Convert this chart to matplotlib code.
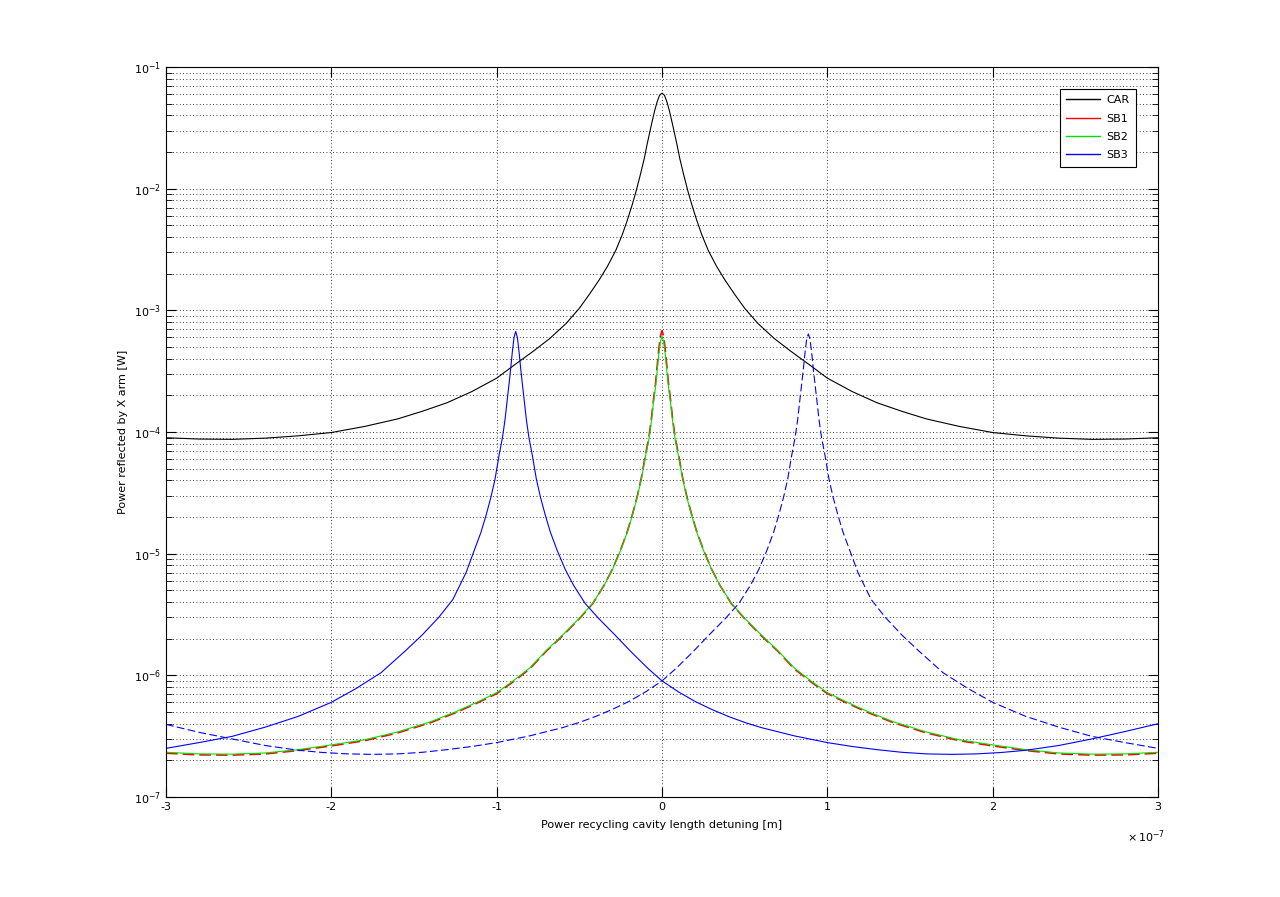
import matplotlib
matplotlib.use("Agg")
import matplotlib.pyplot as plt
from matplotlib.lines import Line2D
from matplotlib.ticker import LogLocator, NullFormatter, FuncFormatter, FixedLocator
import numpy as np

# detuning values in units of 1e-7 m
x_car = [-3.0, -2.8, -2.6, -2.4, -2.2, -2.0, -1.8, -1.6, -1.45, -1.3, -1.15, -1.0, -0.9,
         -0.78, -0.68, -0.58, -0.5, -0.44, -0.38, -0.33, -0.28, -0.24, -0.21, -0.18,
         -0.157, -0.13, -0.107, -0.09, -0.075, -0.06, -0.045, -0.03, -0.015, 0.0,
         0.015, 0.03, 0.045, 0.06, 0.075, 0.09, 0.107, 0.13, 0.157, 0.18, 0.21, 0.24,
         0.28, 0.33, 0.38, 0.44, 0.5, 0.58, 0.68, 0.78, 0.9, 1.0, 1.15, 1.3, 1.45, 1.6,
         1.8, 2.0, 2.2, 2.4, 2.6, 2.8, 3.0]
car = [8.97e-5, 8.75e-5, 8.7e-5, 8.9e-5, 9.3e-5, 9.9e-5, 1.11e-4, 1.28e-4, 1.48e-4,
       1.74e-4, 2.15e-4, 2.77e-4, 3.5e-4, 4.6e-4, 5.85e-4, 7.8e-4, 1.04e-3, 1.35e-3,
       1.78e-3, 2.3e-3, 3.1e-3, 4.2e-3, 5.5e-3, 7.4e-3, 9.5e-3, 1.32e-2, 1.78e-2,
       2.32e-2, 2.88e-2, 3.55e-2, 4.35e-2, 5.15e-2, 5.85e-2, 6.1e-2,
       5.85e-2, 5.15e-2, 4.35e-2, 3.55e-2, 2.88e-2, 2.32e-2, 1.78e-2, 1.32e-2, 9.5e-3,
       7.4e-3, 5.5e-3, 4.2e-3, 3.1e-3, 2.3e-3, 1.78e-3, 1.35e-3, 1.04e-3, 7.8e-4,
       5.85e-4, 4.6e-4, 3.5e-4, 2.77e-4, 2.15e-4, 1.74e-4, 1.48e-4, 1.28e-4, 1.11e-4,
       9.9e-5, 9.3e-5, 8.9e-5, 8.7e-5, 8.75e-5, 8.97e-5]

x_sb = [-3.0, -2.8, -2.6, -2.4, -2.2, -2.0, -1.8, -1.6, -1.4, -1.25, -1.12, -1.0, -0.9,
        -0.8, -0.7, -0.6, -0.5, -0.42, -0.35, -0.3, -0.25, -0.21, -0.18, -0.15, -0.125,
        -0.1, -0.08, -0.065, -0.05, -0.04, -0.03, -0.02, -0.01, 0.0,
        0.01, 0.02, 0.03, 0.04, 0.05, 0.065, 0.08, 0.1, 0.125, 0.15, 0.18, 0.21, 0.25,
        0.3, 0.35, 0.42, 0.5, 0.6, 0.7, 0.8, 0.9, 1.0, 1.12, 1.25, 1.4, 1.6, 1.8, 2.0,
        2.2, 2.4, 2.6, 2.8, 3.0]
sb1 = [2.29e-7, 2.22e-7, 2.21e-7, 2.26e-7, 2.41e-7, 2.63e-7, 2.9e-7, 3.36e-7, 4.08e-7,
       4.92e-7, 5.9e-7, 7.08e-7, 8.85e-7, 1.13e-6, 1.58e-6, 2.12e-6, 2.92e-6, 3.87e-6,
       5.5e-6, 7.45e-6, 1.08e-5, 1.52e-5, 2.08e-5, 2.95e-5, 4.2e-5, 6.5e-5, 8.9e-5,
       1.26e-4, 1.92e-4, 2.45e-4, 3.4e-4, 4.7e-4, 6.1e-4, 6.8e-4,
       6.1e-4, 4.7e-4, 3.4e-4, 2.45e-4, 1.92e-4, 1.26e-4, 8.9e-5, 6.5e-5, 4.2e-5,
       2.95e-5, 2.08e-5, 1.52e-5, 1.08e-5, 7.45e-6, 5.5e-6, 3.87e-6, 2.92e-6, 2.12e-6,
       1.58e-6, 1.13e-6, 8.85e-7, 7.08e-7, 5.9e-7, 4.92e-7, 4.08e-7, 3.36e-7, 2.9e-7,
       2.63e-7, 2.41e-7, 2.26e-7, 2.21e-7, 2.22e-7, 2.29e-7]
sb2 = [2.33e-7, 2.26e-7, 2.25e-7, 2.3e-7, 2.45e-7, 2.68e-7, 2.95e-7, 3.42e-7, 4.15e-7,
       5.0e-7, 6.0e-7, 7.2e-7, 9.0e-7, 1.15e-6, 1.6e-6, 2.15e-6, 2.95e-6, 3.9e-6,
       5.5e-6, 7.4e-6, 1.07e-5, 1.5e-5, 2.05e-5, 2.9e-5, 4.1e-5, 6.3e-5, 8.6e-5,
       1.2e-4, 1.83e-4, 2.3e-4, 3.1e-4, 4.3e-4, 5.5e-4, 6.1e-4,
       5.5e-4, 4.3e-4, 3.1e-4, 2.3e-4, 1.83e-4, 1.2e-4, 8.6e-5, 6.3e-5, 4.1e-5,
       2.9e-5, 2.05e-5, 1.5e-5, 1.07e-5, 7.4e-6, 5.5e-6, 3.9e-6, 2.95e-6, 2.15e-6,
       1.6e-6, 1.15e-6, 9.0e-7, 7.2e-7, 6.0e-7, 5.0e-7, 4.15e-7, 3.42e-7, 2.95e-7,
       2.68e-7, 2.45e-7, 2.3e-7, 2.25e-7, 2.26e-7, 2.33e-7]

x_sb3 = [-3.0, -2.8, -2.6, -2.4, -2.2, -2.0, -1.85, -1.7, -1.55, -1.45, -1.35, -1.265,
         -1.185, -1.135, -1.095, -1.065, -1.035, -1.01, -0.985, -0.965, -0.95, -0.935,
         -0.925, -0.915, -0.905, -0.895, -0.885, -0.875, -0.865, -0.855, -0.845, -0.835,
         -0.82, -0.805, -0.785, -0.76, -0.735, -0.705, -0.675, -0.635, -0.585, -0.535,
         -0.465, -0.385, -0.285, -0.185, -0.085, 0.0, 0.1, 0.2, 0.3, 0.4, 0.5, 0.6, 0.8,
         1.0, 1.15, 1.3, 1.45, 1.6, 1.75, 1.9, 2.05, 2.2, 2.4, 2.6, 2.8, 3.0]
sb3_low = [2.51e-7, 2.8e-7, 3.15e-7, 3.75e-7, 4.6e-7, 6.0e-7, 7.8e-7, 1.05e-6, 1.6e-6,
           2.15e-6, 3.0e-6, 4.2e-6, 7.0e-6, 1.07e-5, 1.5e-5, 2.05e-5, 2.9e-5, 4.1e-5,
           6.5e-5, 9.0e-5, 1.25e-4, 1.9e-4, 2.5e-4, 3.35e-4, 4.6e-4, 6.0e-4, 6.7e-4,
           6.0e-4, 4.6e-4, 3.35e-4, 2.5e-4, 1.9e-4, 1.25e-4, 9.0e-5, 6.5e-5, 4.1e-5,
           2.9e-5, 2.05e-5, 1.5e-5, 1.07e-5, 7.4e-6, 5.5e-6, 3.9e-6, 2.95e-6, 2.15e-6,
           1.55e-6, 1.14e-6, 9.0e-7, 7.3e-7, 6.1e-7, 5.25e-7, 4.6e-7, 4.1e-7, 3.72e-7,
           3.18e-7, 2.8e-7, 2.6e-7, 2.45e-7, 2.33e-7, 2.26e-7, 2.24e-7, 2.26e-7, 2.32e-7,
           2.42e-7, 2.65e-7, 3.0e-7, 3.45e-7, 4.0e-7]

x_sb3u = [-3.0, -2.8, -2.6, -2.4, -2.2, -2.05, -1.9, -1.75, -1.6, -1.45, -1.3, -1.15,
          -1.0, -0.8, -0.6, -0.5, -0.4, -0.3, -0.2, -0.1, 0.0, 0.085, 0.185, 0.285,
          0.385, 0.465, 0.535, 0.585, 0.635, 0.675, 0.705, 0.735, 0.76, 0.785, 0.805,
          0.82, 0.835, 0.845, 0.855, 0.865, 0.875, 0.885, 0.895, 0.905, 0.915, 0.925,
          0.935, 0.95, 0.965, 0.985, 1.01, 1.035, 1.065, 1.095, 1.135, 1.185, 1.265,
          1.35, 1.45, 1.55, 1.7, 1.85, 2.0, 2.2, 2.4, 2.6, 2.8, 3.0]
sb3_up = [3.95e-7, 3.4e-7, 3.0e-7, 2.65e-7, 2.42e-7, 2.32e-7, 2.26e-7, 2.24e-7,
          2.26e-7, 2.33e-7, 2.45e-7, 2.6e-7, 2.8e-7, 3.18e-7, 3.72e-7, 4.1e-7, 4.6e-7,
          5.25e-7, 6.1e-7, 7.3e-7, 9.0e-7, 1.14e-6, 1.55e-6, 2.15e-6, 2.95e-6, 3.9e-6,
          5.5e-6, 7.4e-6, 1.07e-5, 1.5e-5, 2.05e-5, 2.9e-5, 4.1e-5, 6.5e-5, 9.0e-5,
          1.25e-4, 1.9e-4, 2.5e-4, 3.3e-4, 4.5e-4, 5.8e-4, 6.4e-4, 5.8e-4, 4.5e-4,
          3.3e-4, 2.5e-4, 1.9e-4, 1.25e-4, 9.0e-5, 6.5e-5, 4.1e-5, 2.9e-5, 2.05e-5,
          1.5e-5, 1.07e-5, 7.0e-6, 4.2e-6, 3.0e-6, 2.15e-6, 1.6e-6, 1.05e-6, 7.8e-7,
          6.0e-7, 4.6e-7, 3.75e-7, 3.15e-7, 2.8e-7, 2.51e-7]

x_ticks = [-3, -2, -1, 0, 1, 2, 3]
to_m = lambda v: np.array(v) * 1e-7

fig = plt.figure(figsize=(12.8, 8.97), dpi=100)
ax = fig.add_axes([0.1297, 0.1115, 0.775, 0.8138])

lw = 0.8
dash = (0, (7, 3))
green = "#00e000"
ax.semilogy(to_m(x_car), car, color="black", lw=lw)
ax.semilogy(to_m(x_sb), sb1, color="red", lw=lw + 0.4, ls=dash)
ax.semilogy(to_m(x_sb), sb2, color=green, lw=lw)
ax.semilogy(to_m(x_sb3), sb3_low, color="blue", lw=lw)
ax.semilogy(to_m(x_sb3u), sb3_up, color="blue", lw=lw, ls=dash)

ax.set_xlim(-3e-7, 3e-7)
ax.set_ylim(1e-7, 1e-1)

ax.xaxis.set_major_locator(FixedLocator(to_m(x_ticks)))
ax.xaxis.set_major_formatter(FuncFormatter(lambda v, p: "%g" % round(v * 1e7, 6)))
ax.yaxis.set_major_locator(LogLocator(base=10, numticks=10))
ax.yaxis.set_minor_locator(LogLocator(base=10, subs=np.arange(2, 10), numticks=20))
ax.yaxis.set_minor_formatter(NullFormatter())

ax.tick_params(which="both", direction="in", top=True, right=True, labelsize=8)
ax.tick_params(which="major", length=7)
ax.tick_params(which="minor", length=4)

# multiplier shown under the right end of the x axis
fig.text(1127 / 1280, 1 - 842 / 897, r"$\times\,10^{-7}$", fontsize=8)

dot = (0, (1, 3))
ax.grid(True, which="major", axis="both", color="black", ls=dot, lw=0.6)
ax.grid(True, which="minor", axis="y", color="black", ls=dot, lw=0.6)

ax.set_xlabel("Power recycling cavity length detuning [m]", fontsize=8, labelpad=6)
ax.set_ylabel("Power reflected by X arm [W]", fontsize=8, labelpad=4)

for s in ax.spines.values():
    s.set_linewidth(0.8)

names = ["CAR", "SB1", "SB2", "SB3"]
colors = ["black", "red", green, "blue"]
handles = [Line2D([], [], color=c, lw=1.0) for c in colors]
leg = ax.legend(handles, names, loc="upper right", bbox_to_anchor=(0.9835, 0.978),
                fontsize=8, fancybox=False, framealpha=1, edgecolor="black",
                handlelength=3.0, handletextpad=0.6, borderpad=0.6, labelspacing=0.75)
leg.get_frame().set_linewidth(0.8)

fig.savefig("out.png", dpi=100)
